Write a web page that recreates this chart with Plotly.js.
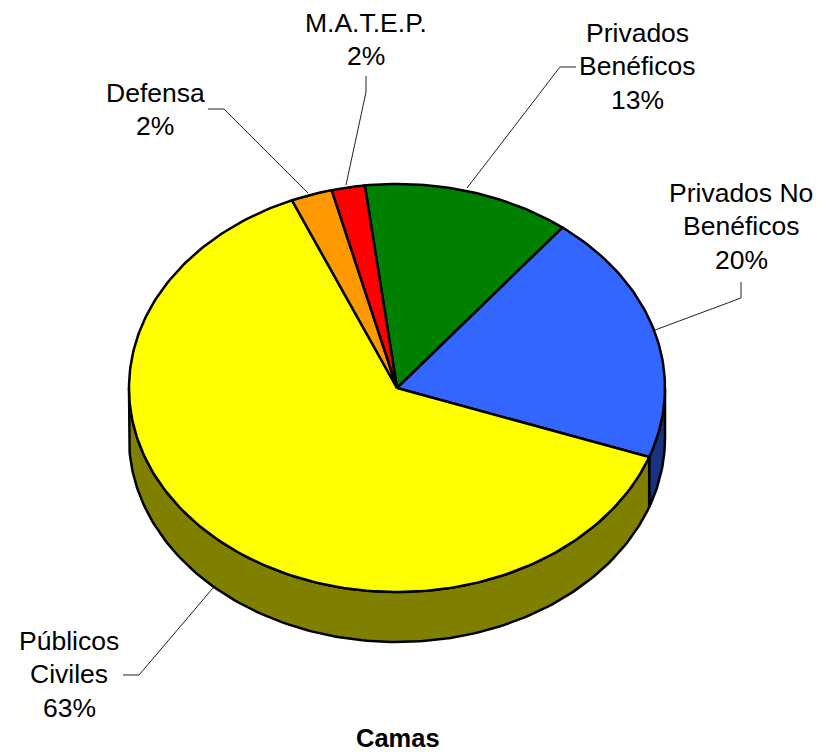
<!DOCTYPE html>
<html>
<head>
<meta charset="utf-8">
<script src="https://cdn.plot.ly/plotly-3.0.1.min.js"></script>
<style>html,body{margin:0;padding:0;background:#fff}#c{width:830px;height:755px}</style>
</head>
<body>
<div id="c"></div>
<script>
// Data, clockwise from the top of the pie
const categories = ["Privados Benéficos", "Privados No Benéficos", "Públicos Civiles", "Defensa", "M.A.T.E.P."];
const values = [12.51, 19.9, 63.1, 2.49, 2.0];
const labelLines = [["Privados", "Benéficos"], ["Privados No", "Benéficos"], ["Públicos", "Civiles"], ["Defensa"], ["M.A.T.E.P."]];
const topColors = ["#008000", "#3366FF", "#FFFF00", "#FF9900", "#FF0000"];
const sideColors = ["#004000", "#1A3380", "#808000", "#804C00", "#800000"];
const chartTitle = "Camas";

// Geometry of the tilted pie (pixel-scaled axes)
const cx = 397, cy = 388, rx = 268, ry = 204, depth = 50, startDeg = -6.9;
const lineH = 33.3;
const labelAnchors = [[637, 33], [741, 193], [69, 641], [155, 93], [366, 23]];
const leaders = [
  [[576, 560, 467], [67, 67, 188]],
  [[741, 741, 655], [282, 298, 330]],
  [[123, 139, 213], [675, 675, 588]],
  [[208, 224, 308], [109, 109, 193]],
  [[366, 366, 346], [76, 92, 185]]
];

const total = values.reduce((a, b) => a + b, 0);
const px = d => cx + rx * Math.sin(d * Math.PI / 180);
const py = d => cy - ry * Math.cos(d * Math.PI / 180);
function arc(a, b) {
  const out = [];
  const n = Math.max(2, Math.ceil(Math.abs(b - a)));
  for (let i = 0; i <= n; i++) out.push(a + (b - a) * i / n);
  return out;
}

const traces = [];
const spans = [];
let acc = startDeg;
values.forEach(v => { const e = acc + v / total * 360; spans.push([acc, e]); acc = e; });

// Side walls: only the part of each slice on the front half (90..270 deg) shows
spans.forEach((s, i) => {
  const a = Math.max(s[0], 90), b = Math.min(s[1], 270);
  if (b <= a) return;
  const ds = arc(a, b);
  const xs = ds.map(px), ys = ds.map(py);
  const xr = xs.slice().reverse(), yr = ys.map(y => y + depth).reverse();
  traces.push({
    x: xs.concat(xr, [xs[0]]), y: ys.concat(yr, [ys[0]]),
    mode: "lines", fill: "toself", fillcolor: sideColors[i],
    line: {color: "#000", width: 2.5}, hoverinfo: "skip", showlegend: false
  });
});

// Top faces
spans.forEach((s, i) => {
  const ds = arc(s[0], s[1]);
  traces.push({
    x: [cx].concat(ds.map(px), [cx]), y: [cy].concat(ds.map(py), [cy]),
    mode: "lines", fill: "toself", fillcolor: topColors[i],
    line: {color: "#000", width: 2.5}, name: categories[i],
    text: categories[i], hoverinfo: "text", showlegend: false
  });
});

// Leader lines
leaders.forEach(l => traces.push({
  x: l[0], y: l[1], mode: "lines",
  line: {color: "#222", width: 1}, hoverinfo: "skip", showlegend: false
}));

// Labels, one annotation per line so the line spacing matches
const font = {family: "Liberation Sans, Arial, sans-serif", size: 26.5, color: "#000"};
const annotations = [];
categories.forEach((c, i) => {
  const lines = labelLines[i].concat([Math.round(values[i] / total * 100) + "%"]);
  lines.forEach((t, k) => annotations.push({
    x: labelAnchors[i][0], y: labelAnchors[i][1] + k * lineH, xref: "x", yref: "y",
    text: t, showarrow: false, xanchor: "center", yanchor: "middle", font: font
  }));
});
annotations.push({
  x: cx + 1, y: 738, xref: "x", yref: "y", text: "<b>" + chartTitle + "</b>",
  showarrow: false, xanchor: "center", yanchor: "middle",
  font: {family: font.family, size: 25.5, color: "#000"}
});

Plotly.newPlot("c", traces, {
  width: 830, height: 755,
  margin: {l: 0, r: 0, t: 0, b: 0},
  paper_bgcolor: "#fff", plot_bgcolor: "#fff",
  showlegend: false,
  xaxis: {range: [0, 830], visible: false, fixedrange: true},
  yaxis: {range: [755, 0], visible: false, fixedrange: true},
  annotations: annotations
}, {displayModeBar: false, staticPlot: true});
</script>
</body>
</html>
